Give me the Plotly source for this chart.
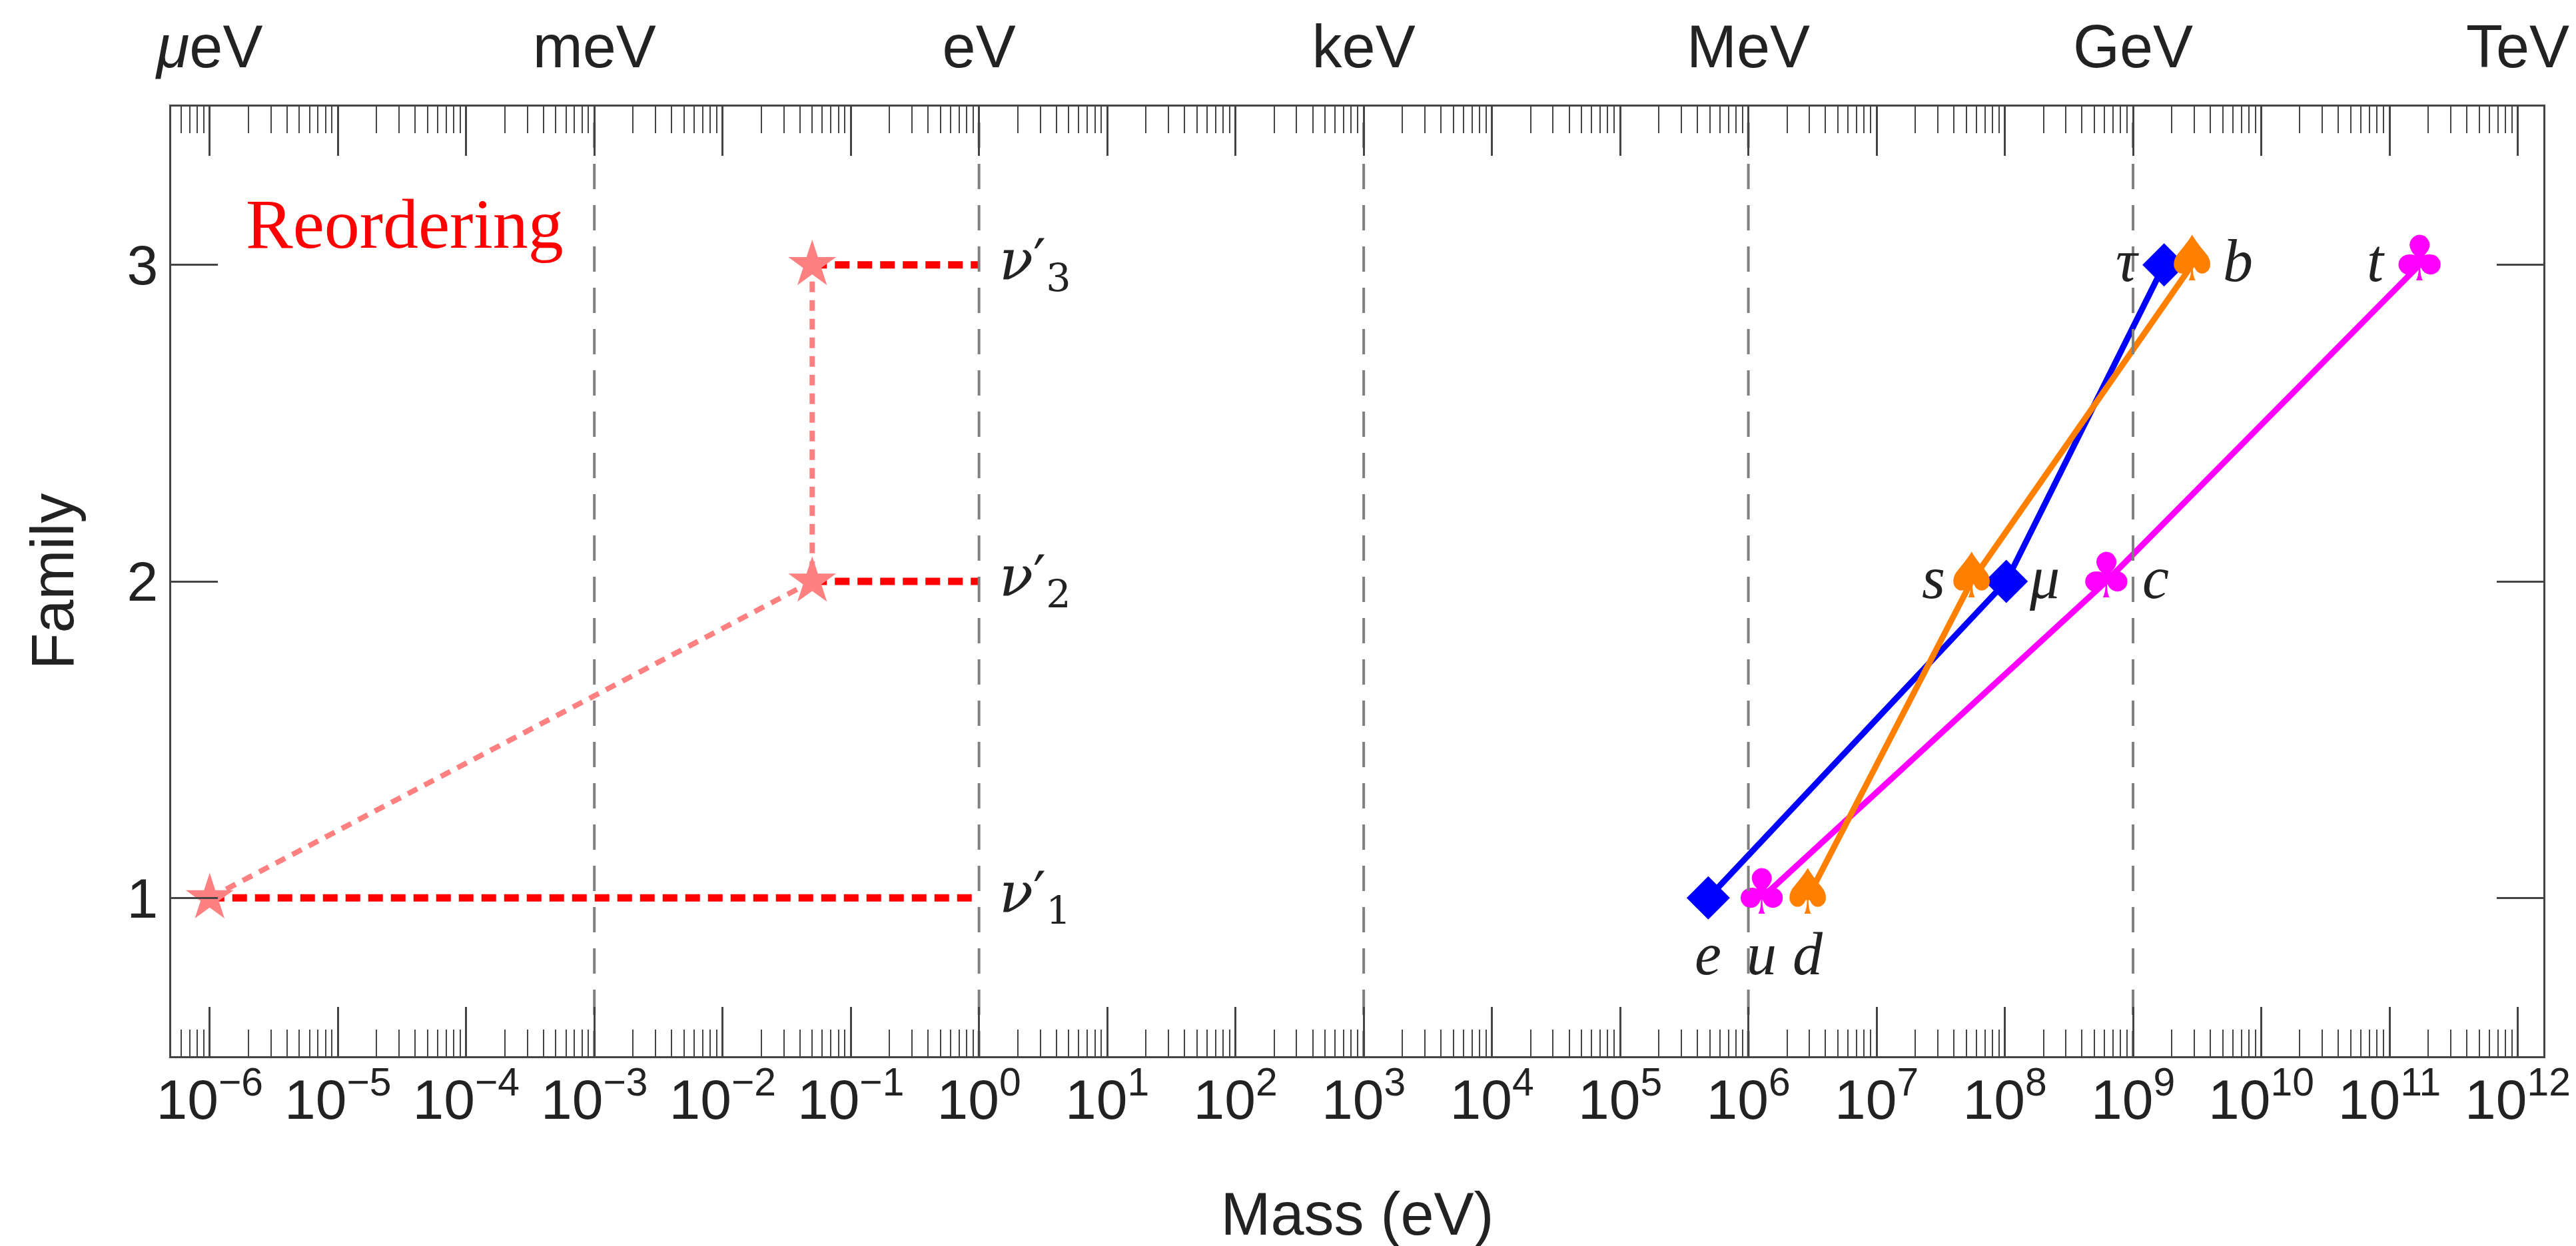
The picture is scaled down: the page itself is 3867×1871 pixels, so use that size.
import numpy as np
import plotly.graph_objects as go

# ---------------- data ----------------
families = [1, 2, 3]

lepton_labels = ["e", "μ", "τ"]
lepton_mass_ev = [4.866e5, 1.0266e8, 1.7462e9]

up_labels = ["u", "c", "t"]
up_mass_ev = [1.27e6, 6.19e8, 1.717e11]

down_labels = ["d", "s", "b"]
down_mass_ev = [2.90e6, 5.5e7, 2.89e9]

nu_labels = ["<i>ν</i>′<sub>1</sub>", "<i>ν</i>′<sub>2</sub>", "<i>ν</i>′<sub>3</sub>"]
nu_mass_ev = [1e-6, 0.05, 0.05]
nu_level_end_ev = 1.0

scale_lines_ev = [1e-3, 1e0, 1e3, 1e6, 1e9]

bottom_tick_exponents = list(range(-6, 13))
unit_exponents = [-6, -3, 0, 3, 6, 9, 12]
unit_names = ["<i>μ</i>eV", "meV", "eV", "keV", "MeV", "GeV", "TeV"]

x_range_log = [-6.3, 12.2]
y_range = [0.5, 3.5]

# ---------------- styles ----------------
AX = "#444444"
TXT = "#222222"
SANS = "Liberation Sans, Arial, sans-serif"
SERIF = "Liberation Serif, Times New Roman, serif"
BLUE = "#0000FF"
ORANGE = "#FF7F00"
MAGENTA = "#FF00FF"
PINK = "#FF8080"
RED = "#FF0000"

fig = go.Figure()

# vertical dashed scale lines (drawn on the top axis so it carries a trace)
for v in scale_lines_ev:
    fig.add_trace(go.Scatter(x=[v, v], y=y_range, mode="lines", xaxis="x2", yaxis="y",
                             line=dict(color="#808080", width=4, dash="38px,24px"),
                             hoverinfo="skip", showlegend=False))

# neutrino reordering path (light dotted)
fig.add_trace(go.Scatter(x=nu_mass_ev, y=families, mode="lines",
                         line=dict(color=PINK, width=8, dash="16px,12px"),
                         showlegend=False))
# neutrino levels (red dashed)
for m, f in zip(nu_mass_ev, families):
    fig.add_trace(go.Scatter(x=[m, nu_level_end_ev], y=[f, f], mode="lines",
                             line=dict(color=RED, width=11, dash="22px,12px"),
                             showlegend=False))
fig.add_trace(go.Scatter(x=nu_mass_ev, y=families, mode="markers",
                         marker=dict(symbol="star", size=54, color=PINK, line=dict(width=0)),
                         showlegend=False))

# leptons
fig.add_trace(go.Scatter(x=lepton_mass_ev, y=families, mode="lines+markers",
                         line=dict(color=BLUE, width=9),
                         marker=dict(symbol="diamond", size=50, color=BLUE, line=dict(width=0)),
                         showlegend=False))
# up-type quarks
fig.add_trace(go.Scatter(x=up_mass_ev, y=families, mode="lines+text",
                         line=dict(color=MAGENTA, width=9),
                         text=["♣"] * len(up_mass_ev), textposition="middle center",
                         textfont=dict(family="DejaVu Sans", size=94, color=MAGENTA),
                         showlegend=False))
# down-type quarks
fig.add_trace(go.Scatter(x=down_mass_ev, y=families, mode="lines+text",
                         line=dict(color=ORANGE, width=9),
                         text=["♠"] * len(down_mass_ev), textposition="middle center",
                         textfont=dict(family="DejaVu Sans", size=94, color=ORANGE),
                         showlegend=False))

# ---------------- labels ----------------
ann = []
def lab(text, mass, fam, xanchor, xshift, yshift=0, size=90):
    ann.append(dict(x=np.log10(mass), y=fam, xref="x", yref="y", text=f"<i>{text}</i>",
                    showarrow=False, xanchor=xanchor, yanchor="middle",
                    xshift=xshift, yshift=yshift,
                    font=dict(family=SERIF, size=size, color=TXT)))

# leptons: e below, mu right, tau left
lab(lepton_labels[0], lepton_mass_ev[0], families[0], "center", 0, -84)
lab(lepton_labels[1], lepton_mass_ev[1], families[1], "left", 32, 6)
lab(lepton_labels[2], lepton_mass_ev[2], families[2], "right", -36, 6)
# up: u below, c right, t left
lab(up_labels[0], up_mass_ev[0], families[0], "center", 0, -84)
lab(up_labels[1], up_mass_ev[1], families[1], "left", 52, 6)
lab(up_labels[2], up_mass_ev[2], families[2], "right", -50, 6)
# down: d below, s left, b right
lab(down_labels[0], down_mass_ev[0], families[0], "center", 0, -84)
lab(down_labels[1], down_mass_ev[1], families[1], "right", -38, 6)
lab(down_labels[2], down_mass_ev[2], families[2], "left", 44, 6)

for t, f in zip(nu_labels, families):
    ann.append(dict(x=np.log10(nu_level_end_ev), y=f, xref="x", yref="y", text=t,
                    showarrow=False, xanchor="left", yanchor="middle", xshift=28, yshift=2,
                    font=dict(family="DejaVu Serif, Liberation Serif, serif", size=84, color=TXT)))

ann.append(dict(x=0.031, y=0.876, xref="paper", yref="paper", text="Reordering",
                showarrow=False, xanchor="left", yanchor="middle",
                font=dict(family=SERIF, size=106, color=RED)))

# ---------------- axes ----------------
major_vals = [10.0 ** k for k in bottom_tick_exponents]
major_text = ["10<sup>%s</sup>" % (str(k).replace("-", "−")) for k in bottom_tick_exponents]
minor_vals = [m * 10.0 ** k for k in range(-7, 13) for m in range(2, 10)
              if x_range_log[0] <= np.log10(m * 10.0 ** k) <= x_range_log[1]]
top_text = [unit_names[unit_exponents.index(k)] if k in unit_exponents else ""
            for k in bottom_tick_exponents]

common_x = dict(type="log", range=x_range_log, showgrid=False, zeroline=False,
                showline=True, linecolor=AX, linewidth=3,
                tickmode="array", tickvals=major_vals,
                ticks="inside", ticklen=74, tickwidth=3, tickcolor=AX,
                minor=dict(tickmode="array", tickvals=minor_vals, ticks="inside",
                           ticklen=40, tickwidth=2, tickcolor=AX, showgrid=False))

fig.update_layout(
    width=3867, height=1871,
    margin=dict(l=249, r=57, t=143, b=293),
    paper_bgcolor="white", plot_bgcolor="white",
    showlegend=False,
    font=dict(family=SANS, color=TXT),
    xaxis=dict(**common_x, ticktext=major_text,
               tickfont=dict(family=SANS, size=84, color=TXT), ticklabelstandoff=-10,
               title=dict(text="Mass (eV)", font=dict(family=SANS, size=90, color=TXT), standoff=95)),
    xaxis2=dict(**common_x, ticktext=top_text, overlaying="x", side="top", anchor="y",
                tickfont=dict(family=SANS, size=90, color=TXT), ticklabelstandoff=20),
    yaxis=dict(range=y_range, tickmode="array", tickvals=families, ticktext=[str(f) for f in families],
               showgrid=False, zeroline=False, showline=True, linecolor=AX, linewidth=3,
               mirror="ticks", ticks="inside", ticklen=70, tickwidth=3, tickcolor=AX,
               tickfont=dict(family=SANS, size=84, color=TXT),
               title=dict(text="Family", font=dict(family=SANS, size=90, color=TXT), standoff=50)),
    annotations=ann,
)

fig.write_html("out.html")
